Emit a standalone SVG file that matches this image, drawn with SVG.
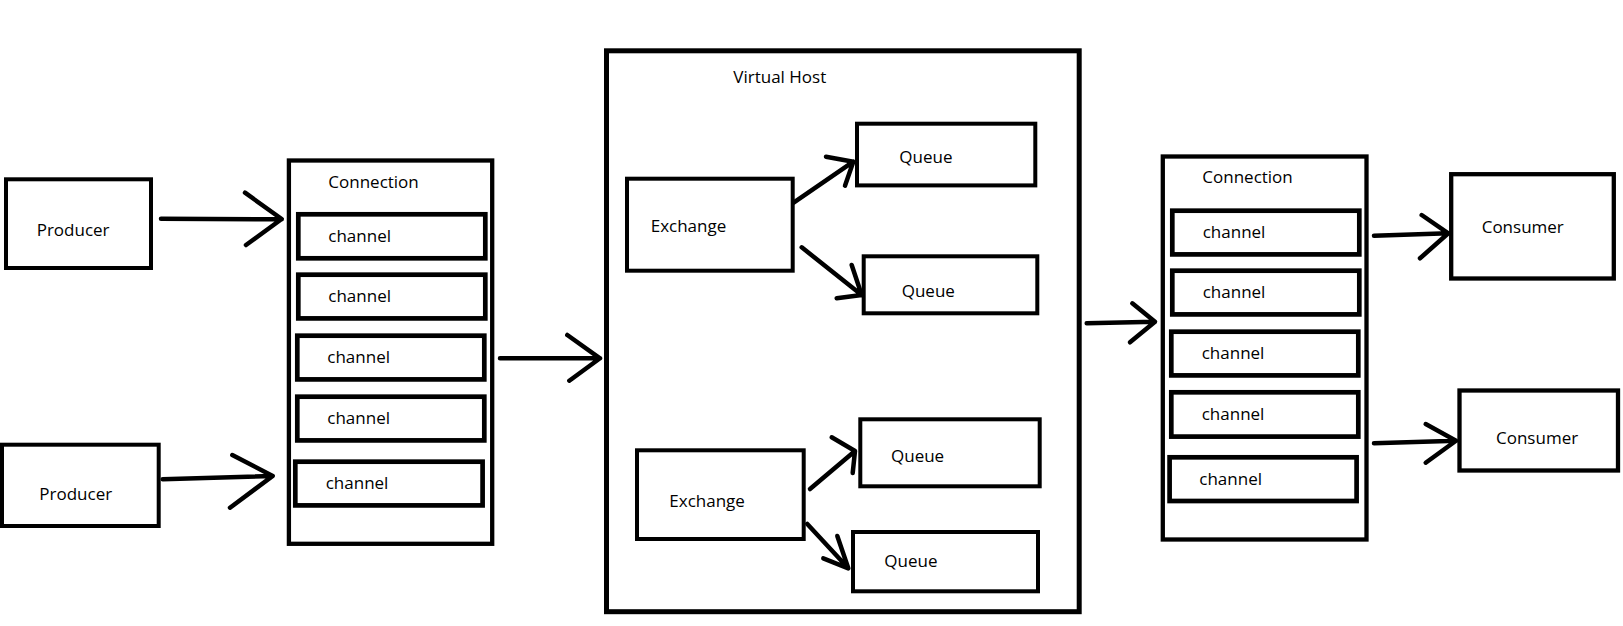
<svg xmlns="http://www.w3.org/2000/svg" width="1623" height="626" viewBox="0 0 1623 626">
<style>
.box{fill:none;stroke:#000;stroke-width:4}
.ch{fill:none;stroke:#000;stroke-width:4.7}
.vh{fill:none;stroke:#000;stroke-width:5}
.t{font-family:"Open Sans","Noto Sans",sans-serif;font-size:17px;fill:#000}
.c{fill:none;stroke:#000;stroke-width:4.5;stroke-linecap:round;stroke-linejoin:round}
</style>
<rect width="1623" height="626" fill="#fff"/>
<g id="producer1"><rect class="box" x="6" y="179.3" width="145" height="88.7"/><text class="t" x="36.7" y="236">Producer</text></g>
<g id="producer2"><rect class="box" x="2" y="444.7" width="156.7" height="81.3"/><text class="t" x="39.3" y="500">Producer</text></g>
<g id="connection-left">
<rect class="box" x="288.9" y="160.5" width="203.3" height="383.3" style="stroke-width:4.3"/>
<text class="t" x="328.3" y="187.7">Connection</text>
<g id="lch1"><rect class="ch" x="298.3" y="214.3" width="187" height="44"/><text class="t" x="328.3" y="241.7">channel</text></g>
<g id="lch2"><rect class="ch" x="298.3" y="274.7" width="187" height="43.7"/><text class="t" x="328.3" y="301.7">channel</text></g>
<g id="lch3"><rect class="ch" x="297.3" y="335.7" width="187" height="43.7"/><text class="t" x="327.3" y="362.7">channel</text></g>
<g id="lch4"><rect class="ch" x="297.3" y="396.7" width="187" height="43.7"/><text class="t" x="327.3" y="424">channel</text></g>
<g id="lch5"><rect class="ch" x="295.3" y="461.7" width="187.3" height="43.7"/><text class="t" x="325.7" y="489">channel</text></g>
</g>
<g id="virtual-host">
<rect class="vh" x="606.5" y="50.8" width="472.7" height="560.9"/>
<text class="t" x="733.3" y="82.7">Virtual Host</text>
<g id="exchange1"><rect class="box" x="627" y="178.7" width="165.7" height="92"/><text class="t" x="650.7" y="231.7">Exchange</text></g>
<g id="queue1"><rect class="box" x="857" y="123.7" width="178.3" height="61.7"/><text class="t" x="899.3" y="162.7">Queue</text></g>
<g id="queue2"><rect class="box" x="863.7" y="256.3" width="173.6" height="57"/><text class="t" x="901.7" y="297.3">Queue</text></g>
<g id="exchange2"><rect class="box" x="637" y="450.3" width="166.7" height="88.7"/><text class="t" x="669.3" y="506.7">Exchange</text></g>
<g id="queue3"><rect class="box" x="860.3" y="419.3" width="179.4" height="67"/><text class="t" x="891" y="461.7">Queue</text></g>
<g id="queue4"><rect class="box" x="853" y="532" width="185" height="59.3"/><text class="t" x="884.3" y="566.7">Queue</text></g>
</g>
<g id="connection-right">
<rect class="box" x="1162.8" y="156.5" width="203.7" height="383" style="stroke-width:4.3"/>
<text class="t" x="1202.3" y="183.3">Connection</text>
<g id="rch1"><rect class="ch" x="1172.3" y="210.7" width="187" height="43.7"/><text class="t" x="1202.7" y="237.7">channel</text></g>
<g id="rch2"><rect class="ch" x="1172.3" y="270.7" width="187" height="43.7"/><text class="t" x="1202.7" y="297.7">channel</text></g>
<g id="rch3"><rect class="ch" x="1171.3" y="331.7" width="187" height="43.7"/><text class="t" x="1201.7" y="359">channel</text></g>
<g id="rch4"><rect class="ch" x="1171.3" y="392.3" width="187" height="44.3"/><text class="t" x="1201.7" y="420">channel</text></g>
<g id="rch5"><rect class="ch" x="1169.6" y="457.3" width="187" height="43.7"/><text class="t" x="1199.3" y="485">channel</text></g>
</g>
<g id="consumer1"><rect class="box" x="1451.2" y="174.2" width="162.6" height="104.3" style="stroke-width:4.3"/><text class="t" x="1481.7" y="232.7">Consumer</text></g>
<g id="consumer2"><rect class="box" x="1459.5" y="390.5" width="158.5" height="80" style="stroke-width:4.3"/><text class="t" x="1496" y="444.3">Consumer</text></g>
<g id="connectors">
<path class="c" d="M161,218.7 L281.7,219.3 M245,192.7 L281.7,219 L246,245"/>
<path class="c" d="M162.7,479.3 L272.7,476 M232.3,455 L272.7,476 L230,507.7"/>
<path class="c" d="M500,358.3 L600,358.3 M567.3,335 L600,358.3 L569.3,380.7"/>
<path class="c" d="M794,202.3 L853.3,161.7 M826,156.7 L853.3,161.7 L845,185.7"/>
<path class="c" d="M801.7,247.3 L861.7,295 M851.7,265 L861.7,295 L836.7,298.3"/>
<path class="c" d="M810,489 L855,451 M831.7,437.3 L855,451 L852.7,473"/>
<path class="c" d="M807.3,524 L848.3,568.3 M837.3,536 L848.3,568.3 L823.3,558.3"/>
<path class="c" d="M1086.7,323.3 L1155,321.7 M1132.3,303.3 L1155,321.7 L1130,342.3"/>
<path class="c" d="M1374,235.7 L1448.3,233.3 M1421.7,215 L1448.3,233.3 L1420,258.3"/>
<path class="c" d="M1374,443.3 L1456,440.7 M1425.7,424 L1456,440.7 L1425.7,462.7"/>
</g>
</svg>
